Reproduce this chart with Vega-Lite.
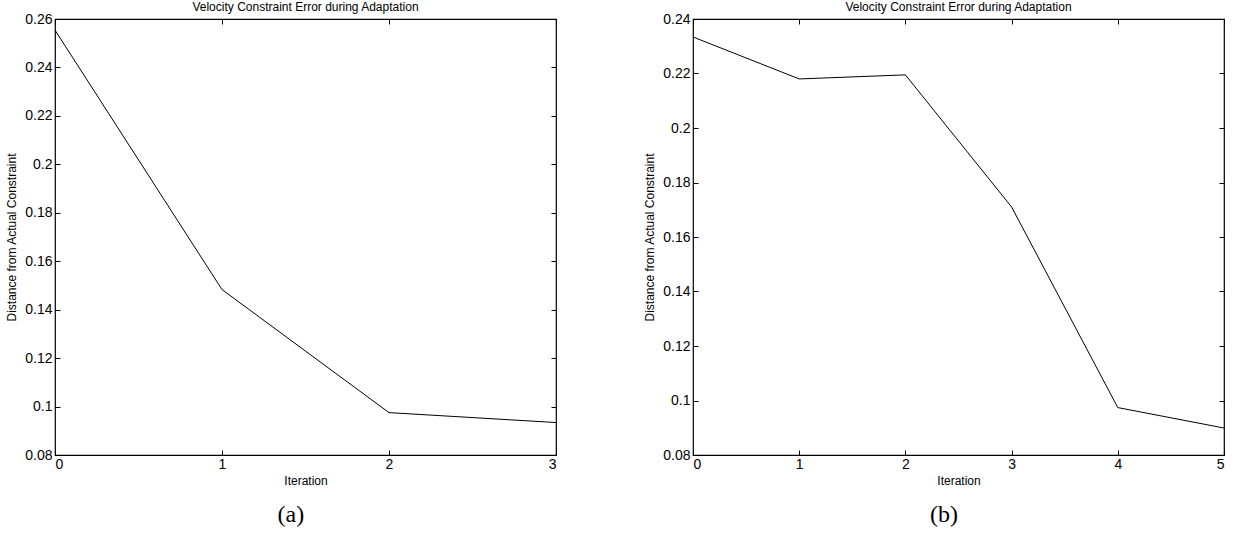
{
  "$schema": "https://vega.github.io/schema/vega-lite/v6.json",
  "padding": {"left": 5, "top": 0, "right": 5, "bottom": 2},
  "background": "white",
  "datasets": {
    "a": [
      {"iteration": 0, "error": 0.2554},
      {"iteration": 1, "error": 0.1483},
      {"iteration": 2, "error": 0.0975},
      {"iteration": 3, "error": 0.0934}
    ],
    "b": [
      {"iteration": 0, "error": 0.2334},
      {"iteration": 1, "error": 0.218},
      {"iteration": 2, "error": 0.2195},
      {"iteration": 3, "error": 0.1710},
      {"iteration": 4, "error": 0.0974},
      {"iteration": 5, "error": 0.0899}
    ]
  },
  "config": {
    "font": "Liberation Sans",
    "view": {"stroke": "black", "strokeWidth": 1.2},
    "axis": {
      "grid": false,
      "domain": false,
      "tickColor": "black",
      "tickSize": -5,
      "labelColor": "black",
      "labelFontSize": 14,
      "labelFont": "Liberation Sans",
      "titleColor": "black",
      "titleFontSize": 12,
      "titleFontWeight": "normal",
      "titleFont": "Liberation Sans"
    },
    "title": {"fontWeight": "normal", "color": "black"},
    "concat": {"spacing": 84}
  },
  "hconcat": [
    {
      "title": {"text": "(a)", "orient": "bottom", "anchor": "middle", "dx": 9, "font": "Liberation Serif", "fontSize": 24, "fontWeight": "normal", "offset": 16},
      "vconcat": [
        {
          "title": {"text": "Velocity Constraint Error during Adaptation", "fontSize": 12, "font": "Liberation Sans", "offset": -2},
          "width": 501,
          "height": 436,
          "data": {"name": "a"},
          "layer": [
            {
              "mark": {"type": "line", "color": "black", "strokeWidth": 1},
              "encoding": {
                "x": {"field": "iteration", "type": "quantitative", "scale": {"domain": [0, 3], "nice": false}, "axis": {"values": [0, 1, 2, 3], "format": "d", "title": "Iteration", "labelPadding": 7, "titlePadding": 4}},
                "y": {"field": "error", "type": "quantitative", "scale": {"domain": [0.08, 0.26], "nice": false, "zero": false}, "axis": {"values": [0.08, 0.1, 0.12, 0.14, 0.16, 0.18, 0.2, 0.22, 0.24, 0.26], "format": ".2~f", "title": "Distance from Actual Constraint", "labelPadding": 8, "titlePadding": 6}}
              }
            },
            {
              "mark": {"type": "line", "opacity": 0},
              "encoding": {
                "x": {"field": "iteration", "type": "quantitative", "axis": {"orient": "top", "values": [0, 1, 2, 3], "labels": false, "title": null}},
                "y": {"field": "error", "type": "quantitative", "axis": {"orient": "right", "values": [0.08, 0.1, 0.12, 0.14, 0.16, 0.18, 0.2, 0.22, 0.24, 0.26], "labels": false, "title": null}}
              }
            }
          ],
          "resolve": {"axis": {"x": "independent", "y": "independent"}}
        }
      ]
    },
    {
      "title": {"text": "(b)", "orient": "bottom", "anchor": "middle", "dx": 9, "font": "Liberation Serif", "fontSize": 24, "fontWeight": "normal", "offset": 16},
      "vconcat": [
        {
          "title": {"text": "Velocity Constraint Error during Adaptation", "fontSize": 12, "font": "Liberation Sans", "offset": -2},
          "width": 531,
          "height": 436,
          "data": {"name": "b"},
          "layer": [
            {
              "mark": {"type": "line", "color": "black", "strokeWidth": 1},
              "encoding": {
                "x": {"field": "iteration", "type": "quantitative", "scale": {"domain": [0, 5], "nice": false}, "axis": {"values": [0, 1, 2, 3, 4, 5], "format": "d", "title": "Iteration", "labelPadding": 7, "titlePadding": 4}},
                "y": {"field": "error", "type": "quantitative", "scale": {"domain": [0.08, 0.24], "nice": false, "zero": false}, "axis": {"values": [0.08, 0.1, 0.12, 0.14, 0.16, 0.18, 0.2, 0.22, 0.24], "format": ".2~f", "title": "Distance from Actual Constraint", "labelPadding": 8, "titlePadding": 6}}
              }
            },
            {
              "mark": {"type": "line", "opacity": 0},
              "encoding": {
                "x": {"field": "iteration", "type": "quantitative", "axis": {"orient": "top", "values": [0, 1, 2, 3, 4, 5], "labels": false, "title": null}},
                "y": {"field": "error", "type": "quantitative", "axis": {"orient": "right", "values": [0.08, 0.1, 0.12, 0.14, 0.16, 0.18, 0.2, 0.22, 0.24], "labels": false, "title": null}}
              }
            }
          ],
          "resolve": {"axis": {"x": "independent", "y": "independent"}}
        }
      ]
    }
  ]
}
